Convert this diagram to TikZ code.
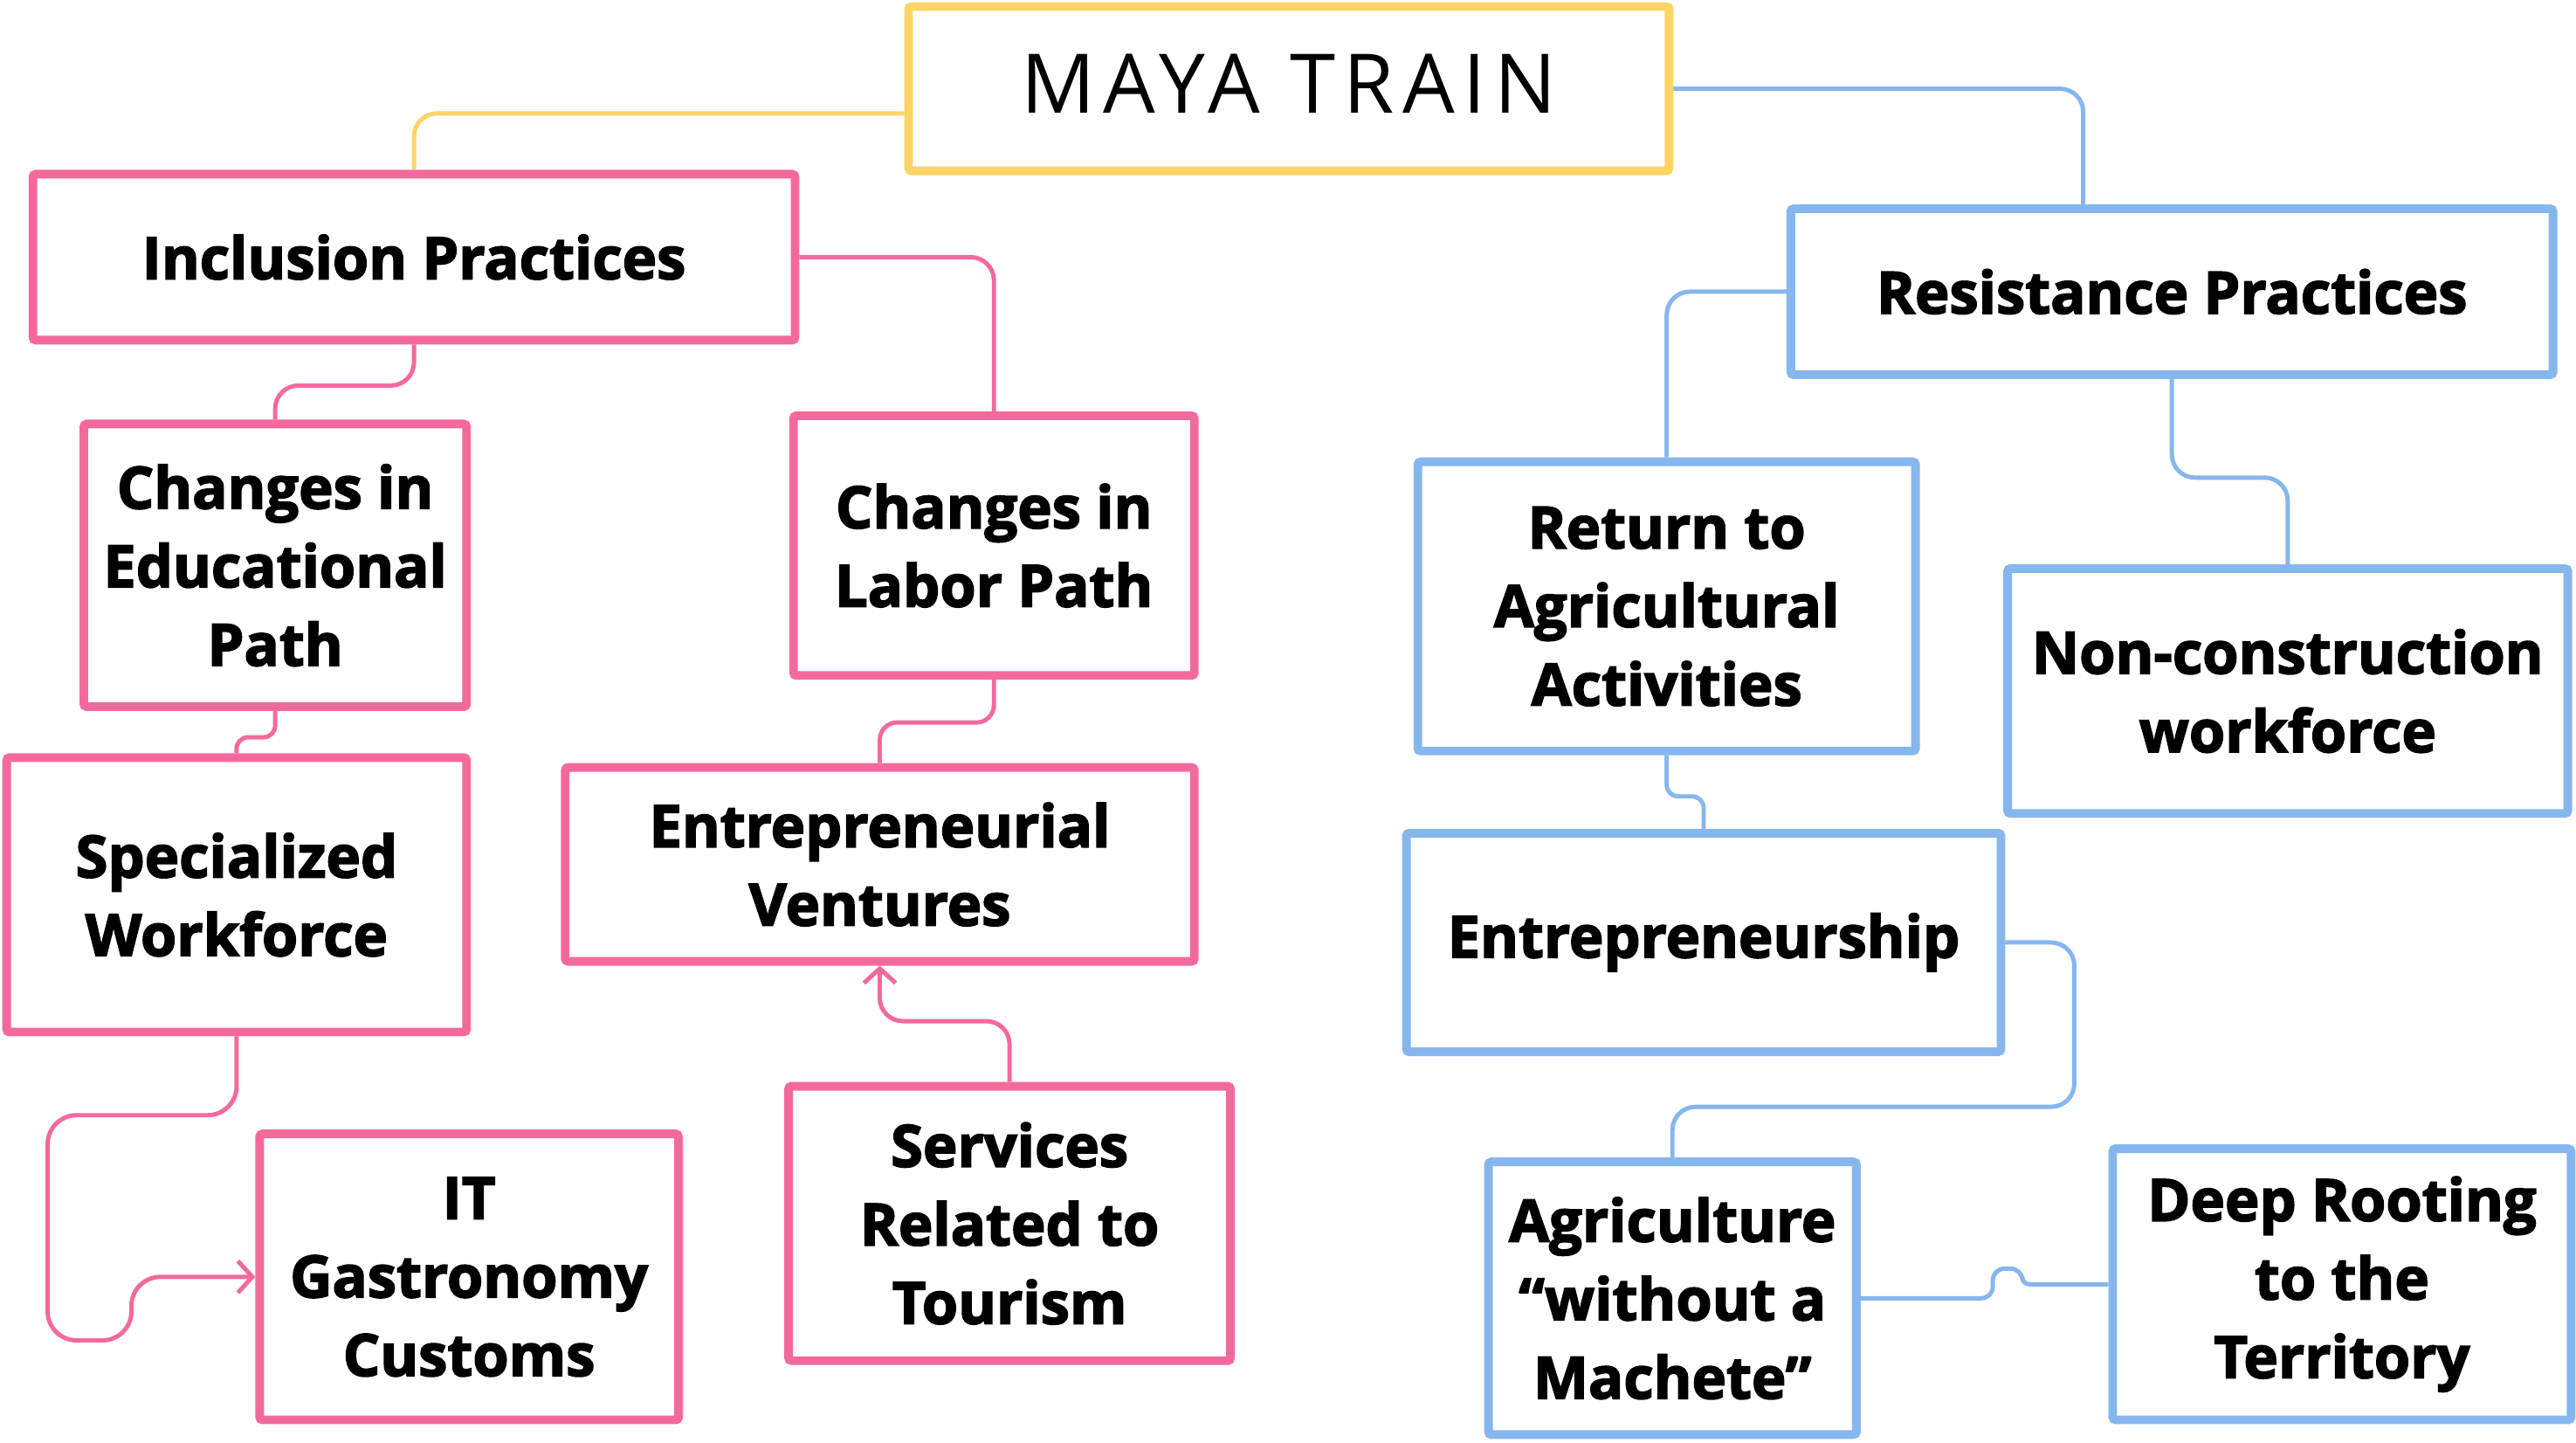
\documentclass[tikz,border=0pt]{standalone}
\usepackage{fontspec}
\setmainfont{Open Sans}[BoldFeatures={FakeBold=2.5}]
\newfontfamily\titlefont{Open Sans}[LetterSpace=10]
\usetikzlibrary{arrows.meta,calc}
\definecolor{pinkc}{HTML}{F4699C}
\definecolor{yellowc}{HTML}{FDD466}
\definecolor{bluec}{HTML}{86B6EE}
\begin{document}
\begin{tikzpicture}[x=0.02cm,y=-0.02cm,
  box/.style={draw,line width=3pt,fill=white,inner sep=0pt,align=center,
    font=\bfseries\fontsize{20.2}{27.2}\selectfont,rounded corners=1pt},
  pbox/.style={box,draw=pinkc},
  bbox/.style={box,draw=bluec},
  conn/.style={line width=1.5pt,rounded corners=8pt},
  pline/.style={conn,draw=pinkc},
  bline/.style={conn,draw=bluec},
  yline/.style={conn,draw=yellowc},
  tip/.style={-{Straight Barb[length=5pt,width=11pt,line width=1.5pt]}}
]
\fill[white] (0,0) rectangle (1568,878);
\useasboundingbox (0,0) rectangle (1568,878);

% nodes
\node[box,draw=yellowc,minimum width=9.26cm,minimum height=2.0cm,
  font=\titlefont\fontsize{28.5}{30}\selectfont] (title) at (784.5,54) {\raisebox{0.12cm}{MAYA TRAIN}};
\node[pbox,minimum width=9.28cm,minimum height=2.02cm] (incl) at (252,156.5) {Inclusion Practices};
\node[bbox,minimum width=9.28cm,minimum height=2.02cm] (resist) at (1322,177.5) {Resistance Practices};
\node[pbox,minimum width=4.66cm,minimum height=3.44cm] (edu) at (167.5,344) {Changes in\\Educational\\Path};
\node[pbox,minimum width=4.88cm,minimum height=3.16cm] (labor) at (605,332) {Changes in\\Labor Path};
\node[pbox,minimum width=5.6cm,minimum height=3.34cm] (spec) at (144,544.5) {Specialized\\Workforce};
\node[pbox,minimum width=7.66cm,minimum height=2.36cm] (entv) at (535.5,526) {Entrepreneurial\\Ventures};
\node[pbox,minimum width=5.1cm,minimum height=3.48cm] (it) at (285.5,777) {IT\\Gastronomy\\Customs};
\node[pbox,minimum width=5.38cm,minimum height=3.34cm] (serv) at (614.5,744.5) {Services\\Related to\\Tourism};
\node[bbox,minimum width=6.06cm,minimum height=3.52cm] (ret) at (1014.5,369) {Return to\\Agricultural\\Activities};
\node[bbox,minimum width=6.82cm,minimum height=2.98cm] (noncon) at (1392.5,420.5) {Non-construction\\workforce};
\node[bbox,minimum width=7.24cm,minimum height=2.66cm] (entr) at (1037,573.5) {Entrepreneurship};
\node[bbox,minimum width=4.48cm,minimum height=3.32cm] (agri) at (1018,790) {Agriculture\\“without a\\Machete”};
\node[bbox,minimum width=5.58cm,minimum height=3.3cm] (deep) at (1425.5,781.5) {Deep Rooting\\to the\\Territory};

% connectors
\draw[yline] ([yshift=-0.3cm]title.west) -| (incl.north);
\draw[bline] (title.east) -| ([xshift=-1.08cm]resist.north);
\draw[pline] (incl.east) -| (labor.north);
\draw[pline] (incl.south) -- ++(0,25) -| (edu.north);
\draw[pline,rounded corners=4pt] (edu.south) -- ++(0,16) -| (spec.north);
\draw[pline,rounded corners=6pt] (labor.south) -- ++(0,26) -| (entv.north);
\draw[pline,tip] (serv.north) -- ++(0,-37) -| (entv.south);
\draw[pline,tip,rounded corners=10pt] (spec.south) -- ++(0,48) -- ++(-115,0) -- ++(0,137) -- ++(51,0) |- (it.west);
\draw[bline] (resist.west) -| (ret.north);
\draw[bline] (resist.south) -- ++(0,60) -| (noncon.north);
\draw[bline,rounded corners=4pt] (ret.south) -- ++(0,25) -| (entr.north);
\draw[bline] (entr.east) -- ++(42,0) -- ++(0,100) -| (agri.north);
\draw[bline,rounded corners=4pt] (agri.east) -- (1213,790) -- (1213,772) -- (1231,772)
  [rounded corners=2.4pt] -- (1231,781.5) -- (deep.west);
\end{tikzpicture}
\end{document}
